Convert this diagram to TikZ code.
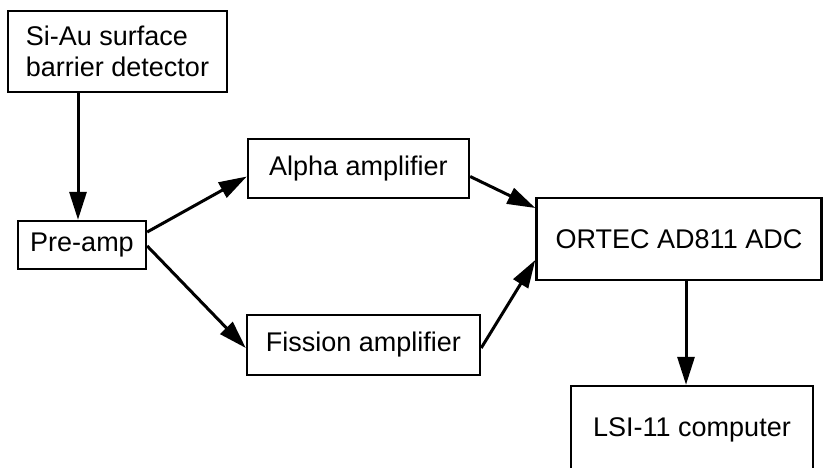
\documentclass[tikz,border=0pt]{standalone}
\usepackage{fontspec}
\setmainfont{Liberation Sans}
\usetikzlibrary{arrows.meta}

\begin{document}
\begin{tikzpicture}[x=1pt,y=-1pt,
  blockbox/.style={draw, line width=2.4pt, rectangle, inner sep=0pt,
    font=\fontsize{27}{31}\selectfont, align=left},
  flow/.style={line width=3pt, -{Triangle[length=28pt,width=17pt]}}]
  \useasboundingbox (0,0) rectangle (824,467);
  \clip (0,0) rectangle (824,467);

  % signal chain blocks
  \node[blockbox, minimum width=219pt, minimum height=81pt] (sia) at (117.5,51.5)
    {Si-Au surface\\barrier detector};
  \node[blockbox, minimum width=128pt, minimum height=48pt] (pre) at (82,245) {Pre-amp};
  \node[blockbox, minimum width=221pt, minimum height=59pt] (alpha) at (358.5,168.5) {Alpha amplifier};
  \node[blockbox, minimum width=233pt, minimum height=60pt] (fis) at (363.5,345) {Fission amplifier};
  \node[blockbox, minimum width=285pt, minimum height=82pt] (adc) at (679,239) {ORTEC AD811 ADC};
  \node[blockbox, minimum width=242pt, minimum height=88pt] (lsi) at (692,430) {LSI-11 computer};

  % connectors
  \draw[flow] ([xshift=-4pt]sia.south -| pre.north) -- ([xshift=-4pt]pre.north);
  \draw[flow] ([yshift=13pt]pre.east) -- ([yshift=-8pt]alpha.west);
  \draw[flow] ([yshift=-1pt]pre.east) -- ([yshift=-3pt]fis.west);
  \draw[flow] ([yshift=-8pt]alpha.east) -- ([yshift=31pt]adc.west);
  \draw[flow] ([yshift=-3pt]fis.east) -- ([yshift=-21pt]adc.west);
  \draw[flow] ([xshift=7pt]adc.south) -- ([xshift=7pt]adc.south |- lsi.north);
\end{tikzpicture}
\end{document}
